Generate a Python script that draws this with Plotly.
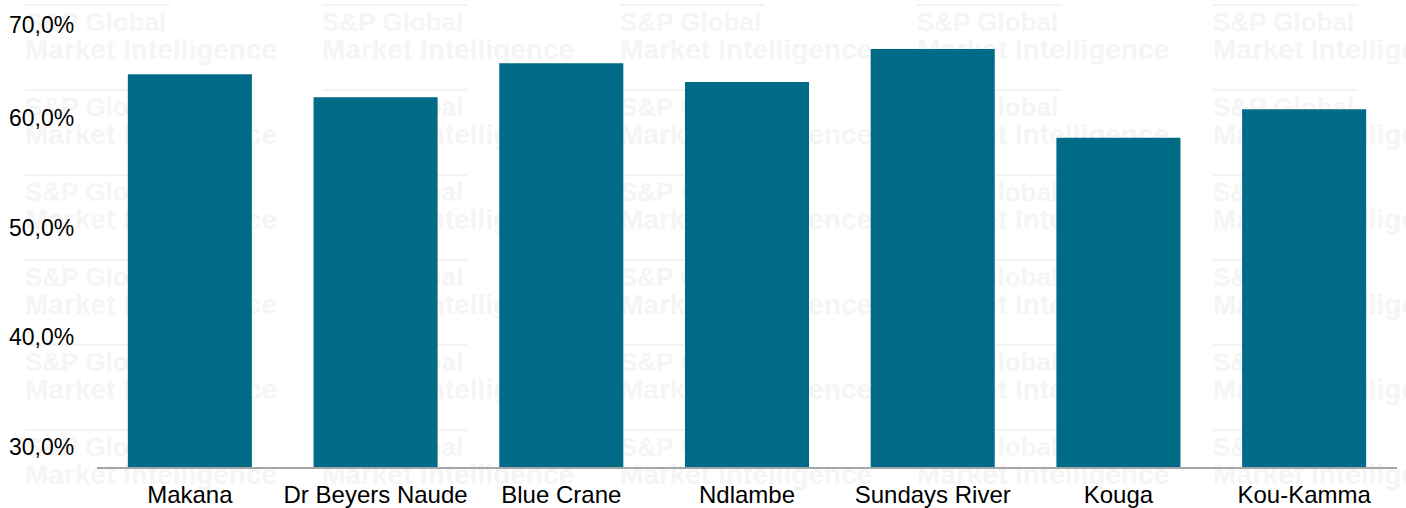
import plotly.graph_objects as go

# Share of households per local municipality
municipalities = ["Makana", "Dr Beyers Naude", "Blue Crane", "Ndlambe",
                  "Sundays River", "Kouga", "Kou-Kamma"]
share_pct = [64.0, 61.9, 65.0, 63.3, 66.3, 58.2, 60.8]

y_tick_values = [30, 40, 50, 60, 70]
y_tick_labels = ["30,0%", "40,0%", "50,0%", "60,0%", "70,0%"]

W, H = 1406, 508
L, R, T, B = 97, 9, 0, 41
PW, PH = W - L - R, H - T - B
BAR_COLOR = "#006B87"
FONT = "Arial, 'Liberation Sans', sans-serif"
WM_COLOR = "#f5f5f5"


def px_to_paper(xp, yp):
    return (xp - L) / PW, 1 - (yp - T) / PH


fig = go.Figure()

fig.add_trace(go.Bar(
    x=municipalities, y=share_pct,
    marker=dict(color=BAR_COLOR, line=dict(width=0)),
    showlegend=False,
))

# Faint tiled watermark as below-layer shapes with labels, so the bars cover it
wm_cols = [22, 319, 617, 914, 1210]
wm_rows = [20, 105, 190, 275, 360, 445]
for cx in wm_cols:
    for ry in wm_rows:
        # thin logo rule above the brand name
        x0, y0 = px_to_paper(cx + 3, ry - 15)
        x1, _ = px_to_paper(cx + 148, ry - 15)
        fig.add_shape(type="line", xref="paper", yref="paper", layer="below",
                      x0=x0, x1=x1, y0=y0, y1=y0,
                      line=dict(color="#f3f3f3", width=2))
        for dy, txt, fs in [(0, "<b>S&amp;P Global</b>", 26),
                            (26, "<b>Market Intelligence</b>", 28)]:
            ax0, ay0 = px_to_paper(cx, ry + dy - 12)
            ax1, ay1 = px_to_paper(cx + 320, ry + dy + 12)
            fig.add_shape(
                type="rect", xref="paper", yref="paper", layer="below",
                x0=ax0, x1=ax1, y0=ay1, y1=ay0,
                line=dict(width=0), fillcolor="rgba(0,0,0,0)",
                label=dict(text=txt, textposition="middle left", padding=0,
                           font=dict(family=FONT, size=fs, color=WM_COLOR)),
            )

y_lo, y_hi = 28.13, 70.78

fig.update_layout(
    width=W, height=H,
    margin=dict(l=L, r=R, t=T, b=B, pad=0),
    paper_bgcolor="white", plot_bgcolor="rgba(0,0,0,0)",
    bargap=0.332,
    font=dict(family=FONT, size=23, color="#000000"),
    xaxis=dict(type="category", showgrid=False, zeroline=False,
               showline=True, linecolor="#a6a6a6", linewidth=2, ticks="",
               tickfont=dict(family=FONT, size=24, color="#000000"),
               ticklabelstandoff=5, fixedrange=True),
    yaxis=dict(range=[y_lo, y_hi], showgrid=False, zeroline=False,
               showline=False, showticklabels=False, ticks="", fixedrange=True),
    showlegend=False,
)

# Value-axis labels; the top one is nudged down to stay inside the page
for v, lab in zip(y_tick_values, y_tick_labels):
    fig.add_annotation(
        xref="paper", yref="y", x=-21 / PW, y=v, text=lab,
        showarrow=False, xanchor="right", yanchor="middle",
        yshift=-16 if v == max(y_tick_values) else 0,
        font=dict(family=FONT, size=23, color="#000000"),
    )

fig.write_html("out.html")
